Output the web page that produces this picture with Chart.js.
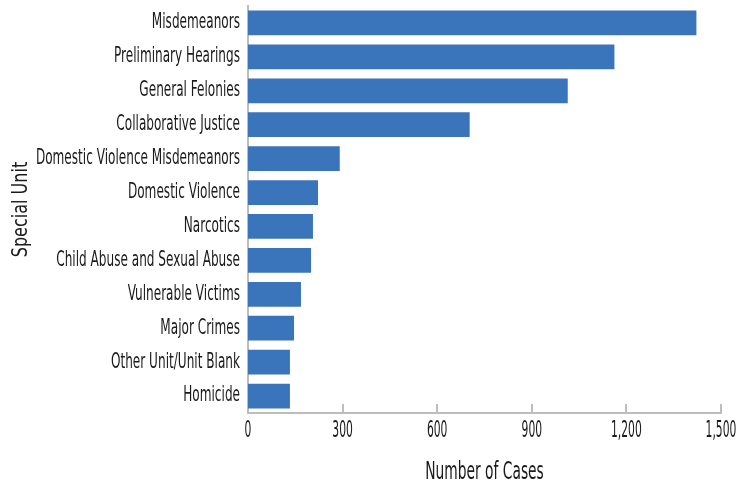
<!DOCTYPE html>
<html>
<head>
<meta charset="utf-8">
<script src="https://cdn.jsdelivr.net/npm/chart.js@4"></script>
<style>
  body { margin: 0; background: #fff; }
  #wrap { width: 739px; height: 487px; }
</style>
</head>
<body>
<div id="wrap"><canvas id="chart" width="739" height="487"></canvas></div>
<script>
const categories = [
  'Misdemeanors',
  'Preliminary Hearings',
  'General Felonies',
  'Collaborative Justice',
  'Domestic Violence Misdemeanors',
  'Domestic Violence',
  'Narcotics',
  'Child Abuse and Sexual Abuse',
  'Vulnerable Victims',
  'Major Crimes',
  'Other Unit/Unit Blank',
  'Homicide'
]
const cases = [1422, 1162, 1014, 703, 291, 222, 206, 200, 168, 146, 133, 133]
const xTickValues = [0, 300, 600, 900, 1200, 1500]

const fontFamily = "'DejaVu Sans Condensed', 'Liberation Sans Narrow', Roboto, sans-serif"
const axisGray = '#bdbdbd'
const textColor = '#1a1a1a'

// the original uses a very narrow display face, so squeeze text horizontally
// (factor picked per font size)
const squeeze = { 21: 0.64, 23: 0.52, 24: 0.64, 22: 0.81 }

const condensedText = {
  id: 'condensedText',
  beforeDraw(chart) {
    const ctx = chart.ctx
    if (ctx._plainFill) return
    ctx._plainFill = ctx.fillText
    ctx.fillText = function (text, x, y, maxWidth) {
      const m = /(\d+(?:\.\d+)?)px/.exec(this.font)
      const f = m ? squeeze[Math.round(parseFloat(m[1]))] : undefined
      if (!f) return this._plainFill(text, x, y, maxWidth)
      this.save()
      this.translate(x, y)
      this.scale(f, 1)
      this._plainFill(text, 0, 0)
      this.restore()
    }
  }
}

// tick marks on the x axis point up into the plot
const innerTicks = {
  id: 'innerTicks',
  afterDraw(chart) {
    const x = chart.scales.x
    const ctx = chart.ctx
    const bottom = chart.chartArea.bottom
    ctx.save()
    ctx.strokeStyle = axisGray
    ctx.lineWidth = 2
    x.ticks.forEach((t, i) => {
      if (i === 0) return
      const px = Math.round(x.getPixelForTick(i))
      ctx.beginPath()
      ctx.moveTo(px, bottom)
      ctx.lineTo(px, bottom - 9)
      ctx.stroke()
    })
    ctx.restore()
  }
}

new Chart(document.getElementById('chart'), {
  type: 'bar',
  data: {
    labels: categories,
    datasets: [{
      data: cases,
      backgroundColor: '#3a75bb',
      borderWidth: 0,
      categoryPercentage: 1,
      barPercentage: 0.73
    }]
  },
  options: {
    indexAxis: 'y',
    responsive: false,
    animation: false,
    layout: {
      padding: { left: 8, top: 6, right: 18, bottom: 0 }
    },
    plugins: {
      legend: { display: false },
      tooltip: { enabled: false }
    },
    scales: {
      x: {
        min: 0,
        max: 1500,
        afterBuildTicks(scale) {
          scale.ticks = xTickValues.map(v => ({ value: v }))
        },
        afterFit(scale) {
          scale.height = 74
          scale.paddingLeft = 0
          scale.paddingRight = 0
        },
        grid: { display: false, drawTicks: false },
        border: { display: true, color: axisGray, width: 2 },
        ticks: {
          padding: 4,
          color: textColor,
          font: { family: fontFamily, size: 23 },
          maxRotation: 0,
          autoSkip: false,
          callback: v => v.toLocaleString('en-US')
        },
        title: {
          display: true,
          text: 'Number of Cases',
          color: textColor,
          font: { family: fontFamily, size: 24 },
          padding: { top: 4, bottom: 0 }
        }
      },
      y: {
        afterFit(scale) {
          scale.width = 240
          scale.paddingTop = 0
          scale.paddingBottom = 0
        },
        grid: { display: false, drawTicks: false },
        border: { display: true, color: axisGray, width: 2 },
        ticks: {
          padding: 8,
          color: textColor,
          font: { family: fontFamily, size: 21 }
        },
        title: {
          display: true,
          text: 'Special Unit',
          color: textColor,
          font: { family: fontFamily, size: 22 },
          padding: { top: 0, bottom: 0 }
        }
      }
    }
  },
  plugins: [condensedText, innerTicks]
})
</script>
</body>
</html>
